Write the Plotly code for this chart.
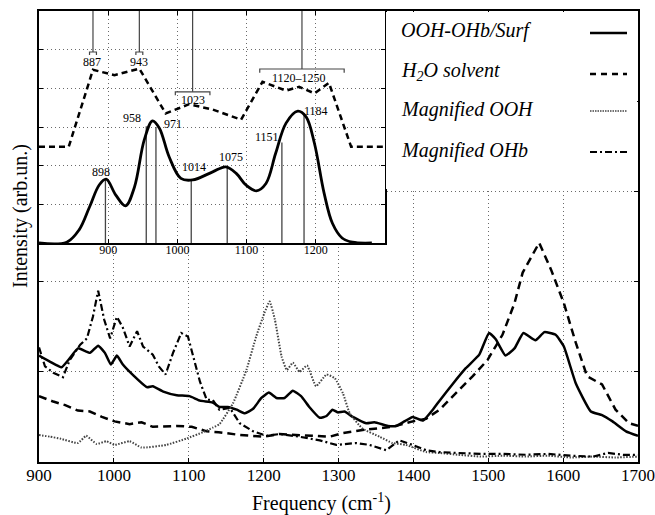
import plotly.graph_objects as go

# ---------------- main panel data ----------------
surf_x = [900, 915, 930, 941, 952, 968, 979, 988, 996, 1004, 1012, 1026, 1044, 1052, 1066, 1084, 1101, 1115, 1132, 1141,
          1152, 1164, 1175, 1186, 1197, 1207, 1217, 1228, 1239, 1250, 1261, 1275, 1284, 1292, 1299, 1308, 1319, 1337, 1348,
          1366, 1377, 1388, 1399, 1413, 1426, 1435, 1452, 1470, 1488, 1501, 1510, 1523, 1535, 1547, 1563, 1575, 1590, 1601,
          1617, 1637, 1652, 1666, 1684, 1700]
surf_y = [1.18, 1.11, 1.05, 1.15, 1.26, 1.21, 1.29, 1.21, 1.08, 1.18, 1.08, 0.96, 0.83, 0.84, 0.78, 0.74, 0.73, 0.68, 0.66,
          0.61, 0.61, 0.58, 0.54, 0.59, 0.71, 0.77, 0.71, 0.71, 0.79, 0.73, 0.61, 0.49, 0.51, 0.58, 0.55, 0.56, 0.50, 0.43,
          0.44, 0.40, 0.40, 0.45, 0.50, 0.46, 0.58, 0.68, 0.86, 1.04, 1.19, 1.43, 1.36, 1.18, 1.26, 1.43, 1.35, 1.44, 1.41,
          1.28, 0.87, 0.56, 0.52, 0.45, 0.34, 0.29]

h2o_x = [900, 919, 935, 952, 968, 984, 1001, 1021, 1037, 1052, 1084, 1104, 1124, 1140, 1168, 1199, 1221, 1257, 1288, 1306,
         1337, 1372, 1399, 1417, 1435, 1461, 1479, 1499, 1519, 1535, 1546, 1568, 1584, 1601, 1617, 1632, 1652, 1670, 1688, 1700]
h2o_y = [0.73, 0.67, 0.63, 0.57, 0.56, 0.50, 0.45, 0.42, 0.44, 0.39, 0.40, 0.39, 0.34, 0.33, 0.30, 0.28, 0.31, 0.29, 0.28,
         0.32, 0.36, 0.39, 0.45, 0.48, 0.58, 0.80, 0.95, 1.13, 1.41, 1.76, 2.10, 2.43, 2.13, 1.76, 1.32, 0.95, 0.86, 0.58,
         0.43, 0.40]

ooh_x = [900, 915, 928, 952, 963, 977, 990, 1001, 1021, 1037, 1070, 1097, 1119, 1132, 1141, 1159, 1177, 1190, 1201, 1208,
         1215, 1224, 1231, 1239, 1248, 1258, 1270, 1284, 1295, 1306, 1315, 1332, 1355, 1372, 1390, 1417, 1435, 1460, 1490,
         1520, 1550, 1580, 1610, 1640, 1670, 1700]
ooh_y = [0.30, 0.28, 0.26, 0.21, 0.29, 0.20, 0.23, 0.19, 0.23, 0.16, 0.19, 0.26, 0.33, 0.38, 0.42, 0.65, 1.02, 1.39, 1.65,
         1.78, 1.58, 1.17, 1.02, 1.10, 1.00, 1.07, 0.84, 0.97, 0.93, 0.76, 0.54, 0.37, 0.28, 0.21, 0.19, 0.11, 0.10, 0.08,
         0.06, 0.07, 0.06, 0.07, 0.05, 0.06, 0.05, 0.06]

ohb_x = [900, 908, 919, 932, 941, 955, 964, 972, 979, 987, 995, 1004, 1012, 1021, 1031, 1039, 1052, 1060, 1069, 1079, 1090,
         1099, 1106, 1115, 1124, 1132, 1141, 1155, 1168, 1186, 1204, 1221, 1248, 1275, 1297, 1324, 1341, 1364, 1381, 1399,
         1417, 1435, 1460, 1490, 1520, 1550, 1580, 1610, 1640, 1660, 1680, 1700]
ohb_y = [1.27, 1.06, 0.99, 0.94, 1.13, 1.30, 1.37, 1.61, 1.90, 1.58, 1.37, 1.61, 1.49, 1.28, 1.45, 1.28, 1.19, 1.06, 0.97,
         1.21, 1.43, 1.39, 1.17, 0.89, 0.69, 0.69, 0.58, 0.60, 0.43, 0.34, 0.29, 0.31, 0.28, 0.24, 0.19, 0.21, 0.19, 0.13,
         0.24, 0.19, 0.13, 0.11, 0.10, 0.09, 0.09, 0.08, 0.09, 0.07, 0.06, 0.10, 0.08, 0.08]

main_xticks = [900, 1000, 1100, 1200, 1300, 1400, 1500, 1600, 1700]

# ---------------- inset data ----------------
ins_solid_x = [800, 840, 858, 873, 887, 897, 911, 925, 938, 952, 964, 974, 988, 1005, 1022, 1051, 1070, 1085, 1099, 1114,
               1128, 1142, 1157, 1174, 1186, 1198, 1212, 1224, 1238, 1253, 1281]
ins_solid_y = [0, 0.02, 0.34, 0.93, 1.5, 1.65, 1.24, 0.96, 1.45, 2.66, 3.16, 2.97, 2.23, 1.67, 1.63, 1.84, 1.97, 1.8, 1.5,
               1.35, 1.54, 2.32, 3.1, 3.41, 3.26, 2.58, 1.29, 0.51, 0.13, 0.02, 0]

ins_dash_x = [800, 843, 878, 909, 945, 983, 1017, 1051, 1092, 1123, 1157, 1176, 1198, 1219, 1251, 1300]
ins_dash_y = [2.49, 2.49, 4.48, 4.34, 4.51, 3.35, 3.59, 3.45, 3.19, 4.17, 3.94, 4.04, 3.87, 4.14, 2.49, 2.49]

# computed frequencies (sticks from the bottom)
stick_x = [896, 955, 969, 1020, 1072, 1151, 1183]
stick_h = [1.65, 3.02, 3.0, 1.63, 1.97, 2.6, 3.35]
stick_labels = ["898", "958", "971", "1014", "1075", "1151", "1184"]
stick_lab_x = [890, 934, 993, 1024, 1078, 1130, 1200]
stick_lab_y = [1.83, 3.22, 3.07, 1.97, 2.23, 2.75, 3.41]

# experimental frequencies (sticks from the top, with brackets)
exp_x = [878, 945, 1022, 1180]
exp_end = [4.94, 4.94, 3.91, 4.5]
exp_br_left = [873, 940, 997, 1119]
exp_br_right = [883, 950, 1047, 1241]
exp_br_leg = [0.08, 0.08, 0.09, 0.1]
exp_labels = ["887", "943", "1023", "1120\u20131250"]
exp_lab_x = [877, 944, 1023, 1175]
exp_lab_y = [4.69, 4.69, 3.71, 4.26]

inset_xticks = [900, 1000, 1100, 1200]

legend_names = ["OOH-OHb/Surf", "H<sub>2</sub>O solvent", "Magnified OOH", "Magnified OHb"]

# ---------------- geometry (page pixels; body margin removed in the page) ----------------
W, H = 655, 515
PL, PR, PT, PB = 39, 638, 11, 462          # plot area edges in pixels
L, T, R, B = PL, PT, W - PR, H - PB
PW = PR - PL
PH = PB - PT


def px(xp):
    return (xp - PL) / PW


def py(yp):
    return (PB - yp) / PH


SERIF = "Liberation Serif"
GRID = "#6a6a6a"

fig = go.Figure()

# main traces
fig.add_trace(go.Scatter(x=surf_x, y=surf_y, mode="lines", xaxis="x", yaxis="y",
                         line=dict(color="black", width=2.5, shape="spline", smoothing=0.4)))
fig.add_trace(go.Scatter(x=h2o_x, y=h2o_y, mode="lines", xaxis="x", yaxis="y",
                         line=dict(color="black", width=2.5, dash="8px,5px")))
fig.add_trace(go.Scatter(x=ooh_x, y=ooh_y, mode="lines", xaxis="x", yaxis="y",
                         line=dict(color="#444", width=2, dash="1.5px,1.5px", shape="spline", smoothing=0.4)))
fig.add_trace(go.Scatter(x=ohb_x, y=ohb_y, mode="lines", xaxis="x", yaxis="y",
                         line=dict(color="black", width=2.2, dash="7px,3px,2px,3px")))

# inset sticks (bottom)
sx, sy = [], []
for xv, hv in zip(stick_x, stick_h):
    sx += [xv, xv, None]
    sy += [0, hv, None]
fig.add_trace(go.Scatter(x=sx, y=sy, mode="lines", xaxis="x2", yaxis="y2",
                         line=dict(color="#444", width=1.3)))
# inset sticks (top) with brackets
tx, ty = [], []
for xv, ev, bl, br, lg in zip(exp_x, exp_end, exp_br_left, exp_br_right, exp_br_leg):
    tx += [xv, xv, None, bl, bl, br, br, None]
    ty += [6, ev, None, ev - lg, ev, ev, ev - lg, None]
fig.add_trace(go.Scatter(x=tx, y=ty, mode="lines", xaxis="x2", yaxis="y2",
                         line=dict(color="#444", width=1.2)))
# inset curves
fig.add_trace(go.Scatter(x=ins_dash_x, y=ins_dash_y, mode="lines", xaxis="x2", yaxis="y2",
                         line=dict(color="black", width=2.5, dash="6px,4px")))
fig.add_trace(go.Scatter(x=ins_solid_x, y=ins_solid_y, mode="lines", xaxis="x2", yaxis="y2",
                         line=dict(color="black", width=2.8, shape="spline", smoothing=1.0)))

annotations = []
for t, xv, yv in zip(stick_labels + exp_labels, stick_lab_x + exp_lab_x, stick_lab_y + exp_lab_y):
    annotations.append(dict(x=xv, y=yv, xref="x2", yref="y2", text=t, showarrow=False,
                            xanchor="center", yanchor="middle",
                            font=dict(family=SERIF, size=12, color="black")))

# axis titles
annotations.append(dict(x=px(20), y=py(216), xref="paper", yref="paper", text="Intensity (arb.un.)",
                        textangle=-90, showarrow=False, xanchor="center", yanchor="middle",
                        font=dict(family=SERIF, size=20, color="black")))
annotations.append(dict(x=px(321), y=py(503), xref="paper", yref="paper", text="Frequency (cm<sup>-1</sup>)",
                        showarrow=False, xanchor="center", yanchor="middle",
                        font=dict(family=SERIF, size=20, color="black")))

# custom legend
shapes = [dict(type="rect", xref="paper", yref="paper", x0=px(386), x1=px(637), y0=py(189), y1=py(12),
               fillcolor="white", line=dict(width=0), layer="above")]
leg_text_y = [31, 71, 109, 150]
leg_line_y = [33, 74, 111, 152]
leg_styles = [dict(width=2.5, dash="solid", color="black"),
              dict(width=2.5, dash="6px,5px", color="black"),
              dict(width=1.5, dash="1.5px,1px", color="#444"),
              dict(width=2.2, dash="7px,3px,2px,3px", color="black")]
for name, ty_, ly, st in zip(legend_names, leg_text_y, leg_line_y, leg_styles):
    annotations.append(dict(x=px(399), y=py(ty_), xref="paper", yref="paper", text=name, xanchor="left",
                            yanchor="middle", showarrow=False,
                            font=dict(family=SERIF, size=20, color="black", style="italic")))
    shapes.append(dict(type="line", xref="paper", yref="paper", x0=px(590), x1=px(627), y0=py(ly), y1=py(ly),
                       line=st, layer="above"))

axis_common = dict(showline=True, linecolor="black", linewidth=1.5, mirror="ticks", ticks="inside",
                   ticklen=4, tickcolor="black", showgrid=True, gridcolor=GRID, gridwidth=1,
                   griddash="1px,3px", zeroline=False, automargin=False)

fig.update_layout(
    template="none",
    width=W, height=H, margin=dict(l=L, r=R, t=T, b=B, autoexpand=False),
    paper_bgcolor="white", plot_bgcolor="white", showlegend=False,
    xaxis=dict(domain=[0, 1], range=[900, 1700], tickvals=main_xticks, anchor="y",
               tickfont=dict(family=SERIF, size=17, color="black"), ticklabelstandoff=-3,
               ticklabeloverflow="allow", **axis_common),
    yaxis=dict(domain=[0, 1], range=[0, 5], tickvals=[1, 2, 3, 4], showticklabels=False, anchor="x",
               **axis_common),
    xaxis2=dict(domain=[0, px(385)], range=[800, 1300], tickvals=inset_xticks, anchor="y2",
                tickfont=dict(family=SERIF, size=12, color="black"), ticklabelstandoff=-5,
                ticklabeloverflow="allow", **axis_common),
    yaxis2=dict(domain=[py(243), 1], range=[0, 6], tickvals=[1, 2, 3, 4, 5], showticklabels=False, anchor="x2",
                **axis_common),
    annotations=annotations, shapes=shapes,
)

fig.write_html("out.html", config={"displayModeBar": False},
               post_script="document.body.style.margin='0px';")
